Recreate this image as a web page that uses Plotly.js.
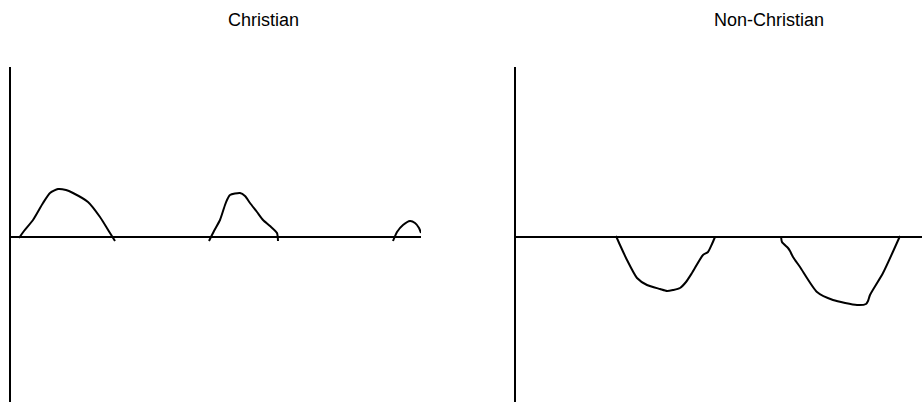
<!DOCTYPE html>
<html>
<head>
<meta charset="utf-8">
<script src="https://cdn.plot.ly/plotly-3.0.1.min.js"></script>
<style>html,body{margin:0;padding:0;background:#fff;}#chart{width:922px;height:402px;}</style>
</head>
<body>
<div id="chart"></div>
<script>
// Panel titles
const panelTitles = ["Christian", "Non-Christian"];

// Christian panel: three humps above the baseline
const chrHump1X = [0.8, 1.3, 2.2, 3.2, 3.9, 4.7, 5.5, 6.2, 7.7, 8.9, 9.9, 10.4];
const chrHump1Y = [-0.1, 0.6, 1.7, 3.4, 4.4, 4.8, 4.7, 4.4, 3.5, 2.0, 0.4, -0.4];
const chrHump2X = [19.8, 20.3, 20.9, 21.4, 21.6, 21.9, 22.9, 23.4, 23.9, 24.6, 25.2, 25.9, 26.6, 26.7];
const chrHump2Y = [-0.4, 0.6, 1.7, 3.2, 3.7, 4.2, 4.4, 4.1, 3.4, 2.5, 1.7, 1.1, 0.4, -0.4];
const chrHump3X = [38.2, 38.6, 39.2, 39.9, 40.4, 40.8, 41.0];
const chrHump3Y = [-0.4, 0.5, 1.2, 1.6, 1.4, 0.9, 0.4];

// Non-Christian panel: two dips below the baseline
const nonDip1X = [10.0, 10.4, 11.1, 12.1, 13.1, 14.4, 15.1, 15.7, 16.4, 17.0, 17.6, 18.7, 19.2, 19.6, 19.9];
const nonDip1Y = [0.1, -0.8, -2.3, -4.1, -4.8, -5.2, -5.4, -5.3, -5.1, -4.5, -3.6, -1.8, -1.5, -0.7, 0.0];
const nonDip2X = [26.5, 26.6, 27.2, 27.4, 27.7, 28.4, 30.1, 31.7, 34.1, 35.0, 35.2, 35.4, 36.7, 38.4];
const nonDip2Y = [0.1, -0.5, -1.1, -1.4, -2.0, -3.0, -5.5, -6.3, -6.8, -6.7, -6.4, -5.8, -3.6, 0.1];

const W = 922, H = 402;
const lineStyle = {color: '#000', width: 2, shape: 'spline', smoothing: 0.6};

function curve(x, y, xa, ya) {
  return {x: x, y: y, xaxis: xa, yaxis: ya, type: 'scatter', mode: 'lines',
          line: lineStyle, hoverinfo: 'skip', showlegend: false};
}

const data = [
  curve(chrHump1X, chrHump1Y, 'x', 'y'),
  curve(chrHump2X, chrHump2Y, 'x', 'y'),
  curve(chrHump3X, chrHump3Y, 'x', 'y'),
  curve(nonDip1X, nonDip1Y, 'x2', 'y2'),
  curve(nonDip2X, nonDip2Y, 'x2', 'y2')
];

const yDomain = [0, 335 / H];
const yRange = [-16.5, 17.0];
const xBase = {showgrid: false, zeroline: false, showline: false, showticklabels: false, ticks: '', fixedrange: true};
const yBase = {showgrid: false, zeroline: true, zerolinecolor: '#000', zerolinewidth: 2,
               showline: true, linecolor: '#000', linewidth: 2,
               showticklabels: false, ticks: '', range: yRange, domain: yDomain, fixedrange: true};

const titleFont = {family: 'Liberation Sans, Arial, sans-serif', size: 18, color: '#000'};

const layout = {
  width: W, height: H,
  margin: {l: 0, r: 0, t: 0, b: 0},
  paper_bgcolor: '#fff', plot_bgcolor: '#fff',
  showlegend: false,
  xaxis: Object.assign({}, xBase, {domain: [11 / W, 421 / W], range: [0, 41.0], anchor: 'y'}),
  yaxis: Object.assign({}, yBase, {anchor: 'x'}),
  xaxis2: Object.assign({}, xBase, {domain: [516 / W, 1], range: [0, 40.6], anchor: 'y2'}),
  yaxis2: Object.assign({}, yBase, {anchor: 'x2'}),
  annotations: [
    {text: panelTitles[0], xref: 'paper', yref: 'paper', x: 263 / W, y: 1 - 20 / H,
     xanchor: 'center', yanchor: 'middle', showarrow: false, font: titleFont},
    {text: panelTitles[1], xref: 'paper', yref: 'paper', x: 769 / W, y: 1 - 20 / H,
     xanchor: 'center', yanchor: 'middle', showarrow: false, font: titleFont}
  ]
};

Plotly.newPlot('chart', data, layout, {staticPlot: true, displayModeBar: false});
</script>
</body>
</html>
